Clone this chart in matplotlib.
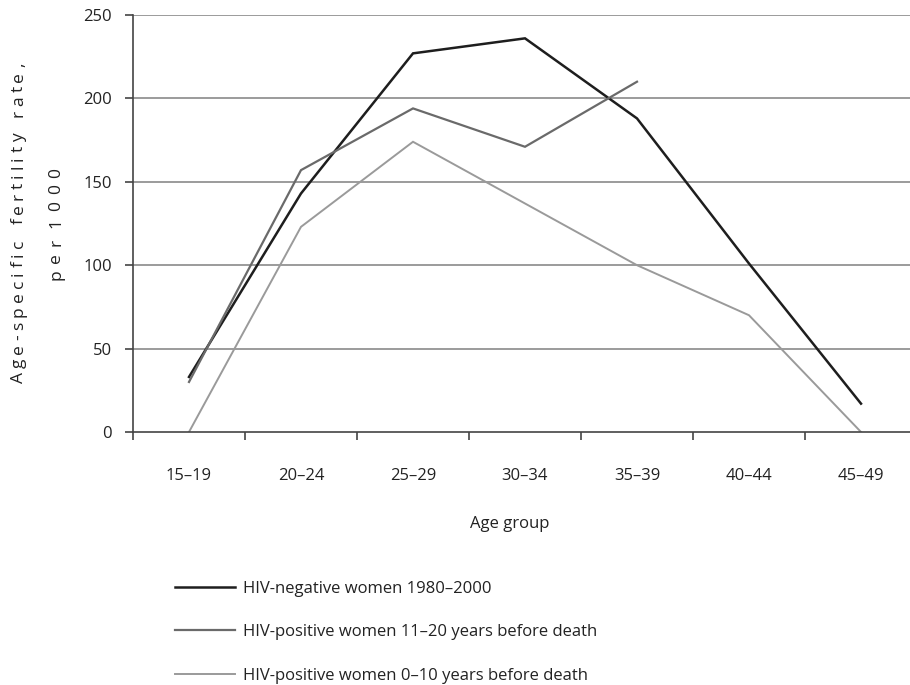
import matplotlib
matplotlib.use("Agg")
import matplotlib.pyplot as plt
from matplotlib.font_manager import FontProperties
from matplotlib.textpath import TextToPath
import numpy as np

plt.rcParams['font.family'] = ['Open Sans', 'DejaVu Sans']

age_groups = ['15–19', '20–24', '25–29', '30–34', '35–39', '40–44', '45–49']
hiv_negative = [33, 143, 227, 236, 188, 101, 17]
hiv_pos_11_20 = [30, 157, 194, 171, 210]
hiv_pos_0_10 = [0, 123, 174, 137, 100, 70, 0]

series_labels = [
    'HIV-negative women 1980–2000',
    'HIV-positive women 11–20 years before death',
    'HIV-positive women 0–10 years before death',
]
series_colors = ['#1e1e1e', '#6a6a6a', '#9a9a9a']
series_widths = [1.8, 1.6, 1.4]

fs = 12
W, H, DPI = 910, 685, 100

fig = plt.figure(figsize=(W / DPI, H / DPI), dpi=DPI)
# plot area runs a little past the right edge, like the original
ax = fig.add_axes([133 / W, 1 - 432 / H, 784 / W, 417 / H])

x = np.arange(len(age_groups))
all_series = [hiv_negative, hiv_pos_11_20, hiv_pos_0_10]
handles = []
for vals, lab, col, lw in zip(all_series, series_labels, series_colors, series_widths):
    h, = ax.plot(x[:len(vals)], vals, color=col, lw=lw, label=lab, solid_joinstyle='miter')
    handles.append(h)

ax.set_xlim(-0.5, len(age_groups) - 0.5)
ax.set_ylim(0, 250)
ax.set_yticks([0, 50, 100, 150, 200, 250])
for v in [50, 100, 150, 200, 250]:
    ax.axhline(v, color='#8a8a8a', lw=1.2, zorder=0)

# category labels in the middle, tick marks at the borders
ax.set_xticks(x)
ax.set_xticklabels(age_groups)
ax.tick_params(axis='x', which='major', length=0, pad=26, labelsize=fs, colors='#222222')
ax.set_xticks(np.arange(len(age_groups)) - 0.5, minor=True)
ax.tick_params(axis='x', which='minor', length=6, width=1.2, color='#444444')
ax.tick_params(axis='y', length=6, width=1.2, color='#444444', pad=9, labelsize=fs, labelcolor='#222222')

for s in ['top', 'right']:
    ax.spines[s].set_visible(False)
for s in ['left', 'bottom']:
    ax.spines[s].set_color('#444444')
    ax.spines[s].set_linewidth(1.2)

fig.text(510 / W, 1 - 524 / H, 'Age group', ha='center', va='center', fontsize=fs, color='#222222')

# letter-spaced vertical axis title, spread between two pixel rows
ttp = TextToPath()


def tracked_label(x_base, y_bottom, y_top, text, size, word_gap=6):
    prop = FontProperties(family='Open Sans', size=size)
    words = text.split(' ')
    widths = [[ttp.get_text_width_height_descent(c, prop, ismath=False)[0] * DPI / 72 for c in w]
              for w in words]
    n = sum(len(w) for w in words)
    ink = sum(sum(ws) for ws in widths)
    gap = ((y_bottom - y_top) - ink - word_gap * (len(words) - 1)) / (n - 1)
    pos = y_bottom
    for word, ws in zip(words, widths):
        for c, w in zip(word, ws):
            fig.text(x_base / W, 1 - pos / H, c, rotation=90, rotation_mode='anchor',
                     ha='left', va='baseline', fontsize=size, family='Open Sans', color='#222222')
            pos -= w + gap
        pos -= word_gap


tracked_label(23, 383, 63, 'Age-specific fertility rate,', 12.5, word_gap=11)
tracked_label(60, 280, 168, 'per 1000', 12.5, word_gap=5)

fig.legend(handles=handles, loc='upper left', bbox_to_anchor=(163 / W, 1 - 569 / H),
           frameon=False, fontsize=fs, handlelength=3.6, handletextpad=0.48,
           labelspacing=1.65, borderaxespad=0.3, labelcolor='#222222')

fig.savefig('out.png', dpi=DPI)
